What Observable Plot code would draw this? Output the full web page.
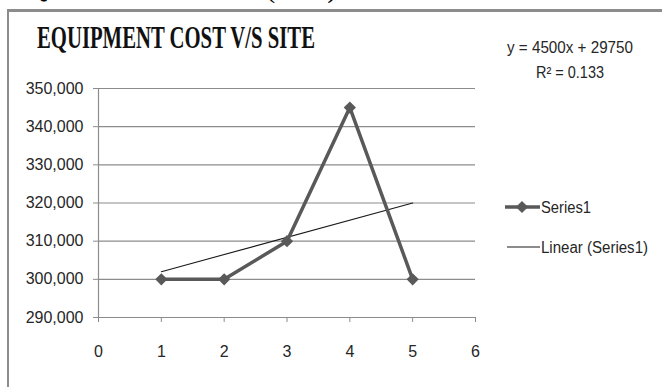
<!DOCTYPE html>
<html>
<head>
<meta charset="utf-8">
<script src="https://cdn.jsdelivr.net/npm/d3@7"></script>
<script src="https://cdn.jsdelivr.net/npm/@observablehq/plot@0.6"></script>
<style>
  body { margin: 0; background: #fff; }
  #page { position: relative; width: 662px; height: 387px; overflow: hidden; background: #fff; }
  #chart { position: absolute; left: 0; top: 0; }
  #frame { position: absolute; left: 7px; top: 9px; width: 720px; height: 420px;
           border-left: 2px solid #8c8c8c; border-top: 3px solid #8c8c8c; box-sizing: border-box; }
  #overlay { position: absolute; left: 0; top: 0; }
</style>
</head>
<body>
<div id="page">
  <div id="chart"></div>
  <div id="frame"></div>
  <svg id="overlay" width="662" height="387"></svg>
</div>
<script>
// Equipment cost per site
const sites = [1, 2, 3, 4, 5];
const costs = [300000, 300000, 310000, 345000, 300000];
const xTicks = [0, 1, 2, 3, 4, 5, 6];
const yTicks = [290000, 300000, 310000, 320000, 330000, 340000, 350000];

const heading = "EQUIPMENT COST (US$)";
const chartTitle = "EQUIPMENT COST V/S SITE";
const trendLines = ["y = 4500x + 29750", "R\u00B2 = 0.133"];
const seriesName = "Series1";
const trendName = "Linear (Series1)";

const SANS = "'Liberation Sans', Arial, sans-serif";
const SERIF = "'Liberation Serif', 'DejaVu Serif', serif";
const SERIES_COLOR = "#595959";
const TREND_COLOR = "#1a1a1a";
const GRID_COLOR = "#8c8c8c";

const rows = sites.map((s, i) => ({site: s, cost: costs[i]}));

const plot = Plot.plot({
  width: 662,
  height: 387,
  marginLeft: 98,
  marginRight: 187,
  marginTop: 88,
  marginBottom: 70,
  x: {domain: [0, 6]},
  y: {domain: [290000, 350000]},
  style: {fontFamily: SANS, fontSize: "16px", color: "#262626", background: "transparent"},
  marks: [
    Plot.gridY(yTicks, {stroke: GRID_COLOR, strokeOpacity: 1, strokeWidth: 1.2}),
    Plot.ruleX([0], {stroke: GRID_COLOR, strokeWidth: 1.2}),
    Plot.axisY(yTicks, {tickFormat: d3.format(","), tickSize: 5, tickPadding: 10,
                        stroke: GRID_COLOR, fill: "#262626", label: null}),
    Plot.axisX(xTicks, {tickFormat: d3.format("d"), tickSize: 5, tickPadding: 23,
                        stroke: GRID_COLOR, fill: "#262626", label: null}),
    Plot.linearRegressionY(rows, {x: "site", y: "cost", ci: 0, stroke: TREND_COLOR, strokeWidth: 1.1}),
    Plot.line(rows, {x: "site", y: "cost", stroke: SERIES_COLOR, strokeWidth: 3.5}),
    Plot.dot(rows, {x: "site", y: "cost", symbol: "diamond2", fill: SERIES_COLOR, r: 5.5})
  ]
});
document.getElementById("chart").appendChild(plot);

// Titles, trend equation and legend
const ov = d3.select("#overlay");

ov.append("text")
  .attr("x", 8).attr("y", -3)
  .attr("textLength", 329).attr("lengthAdjust", "spacingAndGlyphs")
  .style("font-family", SERIF).style("font-size", "30px").attr("fill", "#000")
  .text(heading);

ov.append("text")
  .attr("x", 37).attr("y", 48)
  .attr("textLength", 278).attr("lengthAdjust", "spacingAndGlyphs")
  .style("font-family", SERIF).style("font-size", "31px").style("font-weight", "bold")
  .attr("fill", "#111")
  .text(chartTitle);

ov.selectAll("text.eq").data(trendLines).join("text")
  .attr("class", "eq")
  .attr("x", 570).attr("y", (d, i) => 53 + i * 25)
  .attr("text-anchor", "middle")
  .attr("textLength", (d, i) => i === 0 ? 126 : 68).attr("lengthAdjust", "spacingAndGlyphs")
  .style("font-family", SANS).style("font-size", "16px").attr("fill", "#262626")
  .text(d => d);

const legend = ov.append("g");
legend.append("line").attr("x1", 505).attr("x2", 540).attr("y1", 207).attr("y2", 207)
  .attr("stroke", SERIES_COLOR).attr("stroke-width", 3.5);
legend.append("path").attr("transform", "translate(522,207)")
  .attr("d", d3.symbol(d3.symbolDiamond2, Math.PI * 5.5 * 5.5)())
  .attr("fill", SERIES_COLOR);
legend.append("text").attr("x", 541).attr("y", 213)
  .attr("textLength", 50).attr("lengthAdjust", "spacingAndGlyphs")
  .style("font-family", SANS).style("font-size", "16px").attr("fill", "#262626")
  .text(seriesName);
legend.append("line").attr("x1", 507).attr("x2", 540).attr("y1", 247).attr("y2", 247)
  .attr("stroke", TREND_COLOR).attr("stroke-width", 1.2);
legend.append("text").attr("x", 541).attr("y", 253)
  .attr("textLength", 107).attr("lengthAdjust", "spacingAndGlyphs")
  .style("font-family", SANS).style("font-size", "16px").attr("fill", "#262626")
  .text(trendName);
</script>
</body>
</html>
